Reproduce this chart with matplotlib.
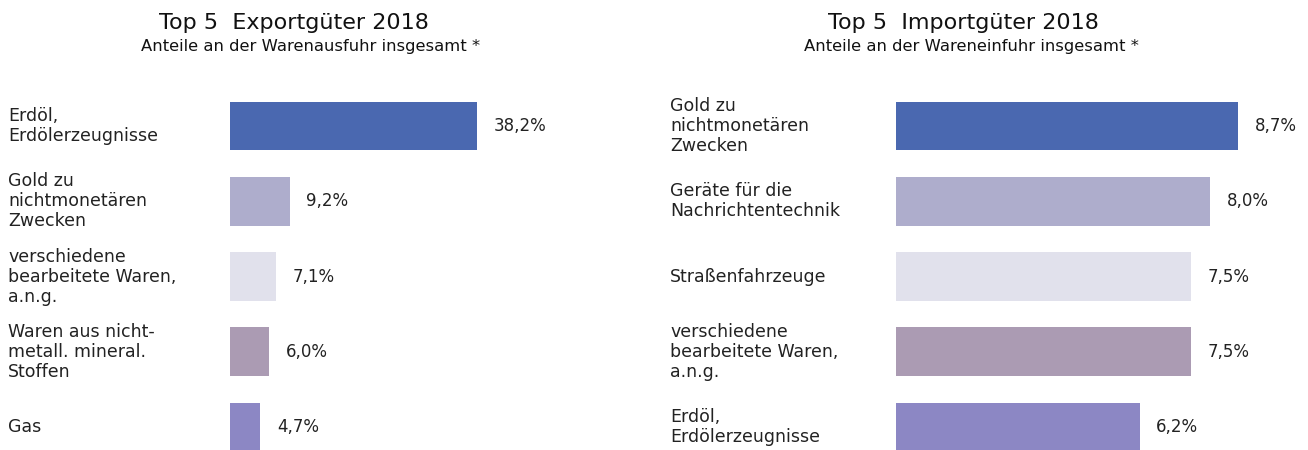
import matplotlib.pyplot as plt
from matplotlib.transforms import blended_transform_factory

# export data
exp_labels = ["Erdöl,\nErdölerzeugnisse", "Gold zu\nnichtmonetären\nZwecken",
              "verschiedene\nbearbeitete Waren,\na.n.g.", "Waren aus nicht-\nmetall. mineral.\nStoffen",
              "Gas"]
exp_values = [38.2, 9.2, 7.1, 6.0, 4.7]
exp_text = ["38,2%", "9,2%", "7,1%", "6,0%", "4,7%"]

# import data
imp_labels = ["Gold zu\nnichtmonetären\nZwecken", "Geräte für die\nNachrichtentechnik",
              "Straßenfahrzeuge", "verschiedene\nbearbeitete Waren,\na.n.g.",
              "Erdöl,\nErdölerzeugnisse"]
imp_values = [8.7, 8.0, 7.5, 7.5, 6.2]
imp_text = ["8,7%", "8,0%", "7,5%", "7,5%", "6,2%"]

colors = ["#4a68b0", "#aeadcc", "#e1e1ec", "#ab9bb3", "#8c87c4"]

W, H = 1308, 450
plt.rcParams['font.family'] = ['DejaVu Sans']
fig = plt.figure(figsize=(W / 100, H / 100), dpi=100)
fig.patch.set_facecolor("white")

first_center = 126
spacing = 75.3
ytop = -first_center / spacing
ybot = (H - first_center) / spacing


def draw_panel(x0, x1, px_per_unit, labels, values, texts, label_x,
               title, subtitle, title_x, sub_x):
    ax = fig.add_axes([x0 / W, 0, (x1 - x0) / W, 1])
    ax.barh(range(len(values)), values, height=0.65, color=colors)
    ax.set_xlim(0, (x1 - x0) / px_per_unit)
    ax.set_ylim(ybot, ytop)
    ax.axis('off')
    trans = blended_transform_factory(fig.transFigure, ax.transData)
    for i, (lab, v, t) in enumerate(zip(labels, values, texts)):
        ax.text(label_x / W, i, lab, transform=trans, ha='left', va='center',
                fontsize=12.5, color="#222222", linespacing=1.15)
        ax.annotate(t, (v, i), xytext=(12, 0), textcoords='offset points',
                    ha='left', va='center', fontsize=12, color="#222222")
    fig.text(title_x / W, 1 - 23 / H, title, ha='center', va='center', fontsize=16, color="#111111")
    fig.text(sub_x / W, 1 - 47 / H, subtitle, ha='center', va='center', fontsize=11.8, color="#111111")


draw_panel(230, 650, 6.47, exp_labels, exp_values, exp_text, 8,
           "Top 5  Exportgüter 2018", "Anteile an der Warenausfuhr insgesamt *", 294, 311)
draw_panel(896, 1308, 39.3, imp_labels, imp_values, imp_text, 670,
           "Top 5  Importgüter 2018", "Anteile an der Wareneinfuhr insgesamt *", 963, 971)

fig.savefig("out.png", dpi=100, facecolor="white")
